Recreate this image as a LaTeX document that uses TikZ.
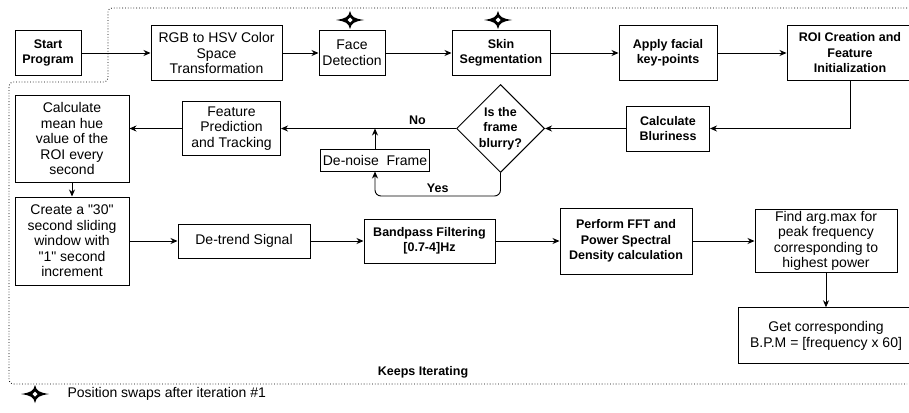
\documentclass[tikz,border=0pt]{standalone}
\usepackage{fontspec}
\setmainfont{Liberation Sans}[Ligatures=TeXOff]
\usetikzlibrary{
    arrows.meta,
    shapes.geometric, % for the diamond
    positioning
}
\newcommand{\plainfont}{\fontsize{14}{15.5}\selectfont}
\newcommand{\heavyfont}{\fontsize{12.5}{15.5}\selectfont\bfseries}

\begin{document}
\begin{tikzpicture}[
    x=1pt, y=-1pt,
    box/.style = {rectangle, draw, line width=1pt, align=center,
                  inner sep=2pt, font=\plainfont},
    heavy/.style = {font=\heavyfont},
    decision/.style = {diamond, draw, line width=1pt, align=center,
                       inner sep=-6pt, minimum width=88pt, minimum height=88pt,
                       font=\heavyfont},
    flowarrow/.style = {line width=0.9pt, -{Stealth[length=7pt, width=6pt]}},
    loopline/.style = {dotted, line width=0.8pt, rounded corners=4pt},
    swapstar/.pic = {
        \fill (-14,0) .. controls (-4,-1.5) and (-1.5,-3) .. (0,-9)
                      .. controls (1.5,-3) and (4,-1.5) .. (14,0)
                      .. controls (4,1.5) and (1.5,3) .. (0,9)
                      .. controls (-1.5,3) and (-4,1.5) .. (-14,0);
        \fill[white] (-2.5,0) -- (0,-2.5) -- (2.5,0) -- (0,2.5) -- cycle;
    }
]
    \useasboundingbox (0,0) rectangle (909,412);

    % top row
    \node[box, heavy, minimum width=66pt, minimum height=44pt] (start) at (48,53) {Start\\Program};
    \node[box, minimum width=131pt, minimum height=54pt] (rgb) [right=69pt of start] {RGB to HSV Color\\Space\\Transformation};
    \node[box, minimum width=66pt, minimum height=44pt] (face) [right=36pt of rgb] {Face\\Detection};
    \node[box, heavy, minimum width=98pt, minimum height=44pt] (skin) [right=66pt of face] {Skin\\Segmentation};
    \node[box, heavy, minimum width=98pt, minimum height=54pt] (keyp) [right=68pt of skin] {Apply facial\\key-points};
    \node[box, heavy, minimum width=126pt, minimum height=55pt] (roi) [right=69pt of keyp] {ROI Creation and\\Feature\\Initialization};

    % middle row
    \node[box, heavy, minimum width=83pt, minimum height=45pt] (blur) [below=25pt of keyp] {Calculate\\Bluriness};
    \node[decision] (blurry) [left=81pt of blur] {Is the\\frame\\blurry?};
    \node[box, minimum width=98pt, minimum height=54pt] (feat) [left=175pt of blurry] {Feature\\Prediction\\and Tracking};
    \node[box, minimum width=109pt, minimum height=22pt] (denoise) at (375,160) {De-noise~~Frame};
    \node[box, minimum width=114pt, minimum height=87pt] (mean) [below=19pt of start.south west, anchor=north west] {Calculate\\mean hue\\value of the\\ROI every\\second};

    % bottom row
    \node[box, minimum width=114pt, minimum height=88pt] (window) [below=14pt of mean] {Create a "30"\\second sliding\\window with\\"1" second\\increment};
    \node[box, minimum width=132pt, minimum height=34pt] (detrend) [right=48pt of window] {De-trend Signal};
    \node[box, heavy, minimum width=131pt, minimum height=44pt] (band) [right=53pt of detrend] {Bandpass Filtering\\{}[0.7-4]Hz};
    \node[box, heavy, minimum width=132pt, minimum height=66pt] (fft) [right=64pt of band] {Perform FFT and\\Power Spectral\\Density calculation};
    \node[box, minimum width=142pt, minimum height=61pt] (argmax) [right=62pt of fft] {Find arg.max for\\peak frequency\\corresponding to\\highest power};
    \node[box, minimum width=175pt, minimum height=56pt] (bpm) [below=34pt of argmax] {Get corresponding\\B.P.M = [frequency x 60]};

    % iteration loop
    \draw[loopline] (907,8) -- (108,8) -- (108,82) -- (9,82) -- (9,384) -- (907,384);
    \node[heavy] (iter) at (423,372) {Keeps Iterating};

    \pic at (350,20) {swapstar};
    \pic at (498,20) {swapstar};
    \pic at (35,394) {swapstar};
    \node[font=\plainfont, anchor=west] (legend) at (64,394) {Position swaps after iteration \#1};

    \draw[flowarrow] (start) -- (rgb);
    \draw[flowarrow] (rgb) -- (face);
    \draw[flowarrow] (face) -- (skin);
    \draw[flowarrow] (skin) -- (keyp);
    \draw[flowarrow] (keyp) -- (roi);
    \draw[flowarrow] (roi.south) |- (blur.east);
    \draw[flowarrow] (blur) -- (blurry);
    \draw[flowarrow] (blurry.west) -- node[above, pos=0.22, heavy] {No} (feat.east);
    \draw[flowarrow] (denoise.north) -- (denoise.north |- blurry.west);
    \draw[flowarrow, rounded corners=6pt] (blurry.south) -- ++(0,23) -| node[above, pos=0.25, heavy] {Yes} (denoise.south);
    \draw[flowarrow] (feat.west) -- (feat.west -| mean.east);
    \draw[flowarrow] (mean) -- (window);
    \draw[flowarrow] (window) -- (detrend);
    \draw[flowarrow] (detrend) -- (band);
    \draw[flowarrow] (band) -- (fft);
    \draw[flowarrow] (fft) -- (argmax);
    \draw[flowarrow] (argmax) -- (bpm);

\end{tikzpicture}
\end{document}
